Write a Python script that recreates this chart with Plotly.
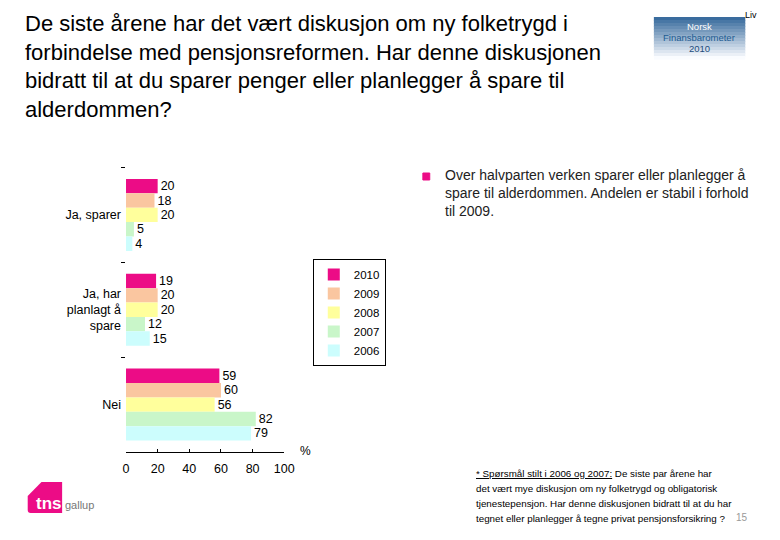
import plotly.graph_objects as go

# Survey answers, share of respondents in %
categories = ["Ja, sparer", "Ja, har<br>planlagt å<br>spare", "Nei"]
years = ["2010", "2009", "2008", "2007", "2006"]
values = {
    "2010": [20, 19, 59],
    "2009": [18, 20, 60],
    "2008": [20, 20, 56],
    "2007": [5, 12, 82],
    "2006": [4, 15, 79],
}
year_colors = {
    "2010": "#EC0C86",
    "2009": "#FAC6A0",
    "2008": "#FFFF9C",
    "2007": "#C9F6C9",
    "2006": "#CCFDFD",
}
x_ticks = [0, 20, 40, 60, 80, 100]

# the page body has an 8px margin, so the figure is a bit smaller than the window
OFF = 8
W, H = 780 - 2 * OFF, 540 - 2 * OFF
FONT = "Liberation Sans, Arial, sans-serif"


def px(x):
    return (x - OFF) / W


def py(y):
    return 1 - (y - OFF) / H


fig = go.Figure()
for yr in years:
    fig.add_trace(go.Bar(
        y=categories, x=values[yr], name=yr, orientation="h",
        marker=dict(color=year_colors[yr], line=dict(width=0)),
        text=values[yr], textposition="outside", cliponaxis=False,
        textfont=dict(family=FONT, size=12.5, color="black"),
    ))

shapes = []
# Norsk Finansbarometer badge, faded from blue to white
n_strips = 14
top, bottom = 17, 59
c0, c1 = (58, 108, 158), (250, 252, 255)
for i in range(n_strips):
    t = i / (n_strips - 1)
    col = tuple(int(c0[k] + (c1[k] - c0[k]) * t) for k in range(3))
    y0 = top + (bottom - top) * i / n_strips
    y1 = top + (bottom - top) * (i + 1) / n_strips
    shapes.append(dict(type="rect", xref="paper", yref="paper",
                       x0=px(662), x1=px(755), y0=py(y0), y1=py(y1 + 0.5),
                       fillcolor="rgb(%d,%d,%d)" % col, line=dict(width=0), layer="below"))

# bullet mark
shapes.append(dict(type="rect", xref="paper", yref="paper",
                   x0=px(427), x1=px(434), y0=py(180), y1=py(173),
                   fillcolor="#EC0C86", line=dict(color="#EC0C86", width=1)))

# tns logo block
logo = "M %f,%f L %f,%f Q %f,%f %f,%f L %f,%f L %f,%f L %f,%f Z" % (
    px(25), py(496), px(25), py(510), px(25), py(513), px(28), py(513),
    px(60), py(513), px(60), py(482), px(39), py(482))
shapes.append(dict(type="path", xref="paper", yref="paper", path=logo,
                   fillcolor="#EC0C86", line=dict(width=0)))

annotations = [
    dict(x=px(20), y=py(9), xanchor="left", yanchor="top", align="left",
         text="De siste årene har det vært diskusjon om ny folketrygd i<br>"
              "forbindelse med pensjonsreformen. Har denne diskusjonen<br>"
              "bidratt til at du sparer penger eller planlegger å spare til<br>"
              "alderdommen?",
         font=dict(family=FONT, size=22, color="black")),
    dict(x=px(761), y=py(15), text="Liv", font=dict(family=FONT, size=9, color="black")),
    dict(x=px(708), y=py(27), text="Norsk", font=dict(family=FONT, size=9.5, color="white")),
    dict(x=px(708), y=py(37.5), text="Finansbarometer", font=dict(family=FONT, size=9.5, color="#1E5C92")),
    dict(x=px(708), y=py(48), text="2010", font=dict(family=FONT, size=9.5, color="#1E4C7C")),
    dict(x=px(447), y=py(165), xanchor="left", yanchor="top", align="left",
         text="Over halvparten verken sparer eller planlegger å<br>"
              "spare til alderdommen. Andelen er stabil i forhold<br>"
              "til 2009.",
         font=dict(family=FONT, size=14, color="#222222")),
    dict(x=px(300), y=py(451), xanchor="left", text="%",
         font=dict(family=FONT, size=12, color="black")),
    dict(x=px(752), y=py(517), text="15", font=dict(family=FONT, size=10, color="#999999")),
    dict(x=px(62), y=py(503), xanchor="right", text="<b>tns</b>",
         font=dict(family=FONT, size=17, color="white")),
    dict(x=px(61), y=py(505), xanchor="left", text="gallup",
         font=dict(family=FONT, size=11, color="#777777")),
]

foot = [
    "<u>* Spørsmål stilt i 2006 og 2007:</u> De siste par årene har",
    "det vært mye diskusjon om ny folketrygd og obligatorisk",
    "tjenestepensjon. Har denne diskusjonen bidratt til at du har",
    "tegnet eller planlegger å tegne privat pensjonsforsikring ?",
]
for i, line in enumerate(foot):
    annotations.append(dict(x=px(479), y=py(473 + 15 * i), xanchor="left", text=line,
                            font=dict(family=FONT, size=9.8, color="black")))

for a in annotations:
    a.setdefault("xref", "paper")
    a.setdefault("yref", "paper")
    a.setdefault("xanchor", "center")
    a.setdefault("yanchor", "middle")
    a.setdefault("showarrow", False)

fig.update_layout(
    width=W, height=H,
    margin=dict(l=0, r=0, t=0, b=0),
    paper_bgcolor="white", plot_bgcolor="white",
    barmode="group", bargap=0.24, bargroupgap=0,
    font=dict(family=FONT, size=12, color="black"),
    legend=dict(x=px(315), y=py(259), xanchor="left", yanchor="top",
                bordercolor="black", borderwidth=1, traceorder="normal",
                font=dict(family=FONT, size=11.5, color="black"),
                itemwidth=30, tracegroupgap=0),
    xaxis=dict(domain=[px(125), px(286)], range=[0, 100], tickvals=x_ticks,
               showgrid=False, zeroline=False, showline=True, linecolor="black",
               ticks="inside", ticklen=3, tickcolor="black", ticklabelstandoff=5,
               tickfont=dict(family=FONT, size=12.5)),
    yaxis=dict(domain=[py(452), py(167.5)], autorange="reversed",
               showgrid=False, zeroline=False, showline=False,
               ticks="outside", tickson="boundaries", ticklen=4, tickcolor="black",
               ticklabelstandoff=4,
               tickfont=dict(family=FONT, size=12.5)),
    shapes=shapes,
    annotations=annotations,
)

fig.write_html("out.html")
